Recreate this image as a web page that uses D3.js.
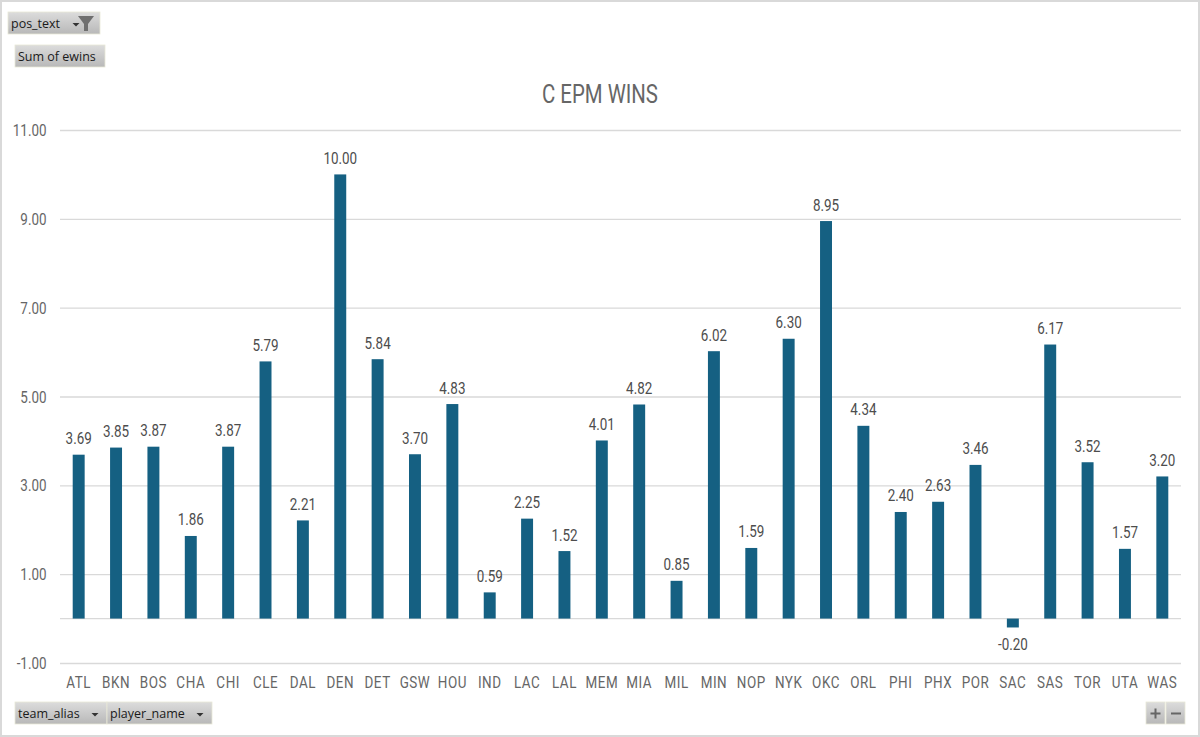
<!DOCTYPE html>
<html>
<head>
<meta charset="utf-8">
<script src="https://cdn.jsdelivr.net/npm/d3@7"></script>
<style>
    html, body { margin: 0; padding: 0; background: #fff; }
    svg { display: block; }
    .cond { font-family: Roboto, sans-serif; }
    .btn-label { font-family: "Open Sans", "Noto Sans", sans-serif; font-size: 12.5px; fill: #1a1a1a; }
</style>
</head>
<body>
<div id="chart"></div>
<script>
const teams = ['ATL', 'BKN', 'BOS', 'CHA', 'CHI', 'CLE', 'DAL', 'DEN', 'DET', 'GSW', 'HOU', 'IND', 'LAC', 'LAL', 'MEM',
    'MIA', 'MIL', 'MIN', 'NOP', 'NYK', 'OKC', 'ORL', 'PHI', 'PHX', 'POR', 'SAC', 'SAS', 'TOR', 'UTA', 'WAS'];
const ewins = [3.69, 3.85, 3.87, 1.86, 3.87, 5.79, 2.21, 10.00, 5.84, 3.70, 4.83, 0.59, 2.25, 1.52, 4.01,
    4.82, 0.85, 6.02, 1.59, 6.30, 8.95, 4.34, 2.40, 2.63, 3.46, -0.20, 6.17, 3.52, 1.57, 3.20];
const yTicks = [-1, 1, 3, 5, 7, 9, 11];

const width = 1200;
const height = 737;
const plot = { left: 60, right: 1181, top: 130, bottom: 663 };
const narrow = 0.79; // Roboto squeezed to look like the condensed face
const fmt = d => d3.format('.2f')(d).replace('\u2212', '-');

const svg = d3.select('#chart').append('svg')
    .attr('width', width)
    .attr('height', height);

const defs = svg.append('defs');
const grad = defs.append('linearGradient')
    .attr('id', 'btn')
    .attr('x1', 0).attr('x2', 0).attr('y1', 0).attr('y2', 1);
grad.append('stop').attr('offset', '0%').attr('stop-color', '#dcdcdc');
grad.append('stop').attr('offset', '100%').attr('stop-color', '#b8b8b8');

// Chart frame
svg.append('rect')
    .attr('x', 1).attr('y', 1)
    .attr('width', width - 2).attr('height', height - 2)
    .attr('fill', '#fff')
    .attr('stroke', '#d9d9d9')
    .attr('stroke-width', 2);

const x = d3.scaleBand()
    .domain(teams)
    .range([plot.left, plot.right])
    .paddingInner(0.68)
    .paddingOuter(0.34);

const y = d3.scaleLinear()
    .domain([-1, 11])
    .range([plot.bottom, plot.top]);

// Gridlines and y labels
const yAxis = svg.append('g')
    .attr('transform', `translate(${plot.left},0)`)
    .call(d3.axisLeft(y)
        .tickValues(yTicks)
        .tickSize(-(plot.right - plot.left))
        .tickFormat(fmt));
yAxis.select('.domain').remove();
yAxis.selectAll('line').attr('stroke', '#d9d9d9').attr('stroke-width', 1.4);
yAxis.selectAll('text').remove();
yAxis.selectAll('.tick').append('text')
    .attr('class', 'cond')
    .attr('transform', 'translate(-13.5,-0.5) scale(' + narrow + ',1)')
    .attr('dy', '0.36em')
    .attr('text-anchor', 'end')
    .attr('fill', '#666')
    .attr('font-size', 17)
    .text(fmt);

// Zero baseline
svg.append('line')
    .attr('x1', plot.left).attr('x2', plot.right)
    .attr('y1', y(0)).attr('y2', y(0))
    .attr('stroke', '#d9d9d9')
    .attr('stroke-width', 1.4);

// Bars
svg.selectAll('.bar')
    .data(ewins)
    .enter()
    .append('rect')
    .attr('class', 'bar')
    .attr('x', (d, i) => x(teams[i]))
    .attr('width', x.bandwidth())
    .attr('y', d => y(Math.max(d, 0)))
    .attr('height', d => Math.abs(y(d) - y(0)))
    .attr('fill', '#156082');

// Value labels
svg.selectAll('.value')
    .data(ewins)
    .enter()
    .append('text')
    .attr('class', 'value cond')
    .attr('transform', (d, i) => {
        const px = x(teams[i]) + x.bandwidth() / 2;
        const py = d < 0 ? y(d) + 23 : y(d) - 10.5;
        return `translate(${px},${py}) scale(${narrow},1)`;
    })
    .attr('text-anchor', 'middle')
    .attr('fill', '#4d4d4d')
    .attr('font-size', 17)
    .text(fmt);

// Category labels
svg.selectAll('.team')
    .data(teams)
    .enter()
    .append('text')
    .attr('class', 'team cond')
    .attr('transform', d => `translate(${x(d) + x.bandwidth() / 2},688) scale(${narrow},1)`)
    .attr('text-anchor', 'middle')
    .attr('fill', '#666')
    .attr('font-size', 17)
    .attr('letter-spacing', 0.7)
    .text(d => d);

// Title
svg.append('text')
    .attr('class', 'cond')
    .attr('transform', `translate(600,103) scale(0.8,1)`)
    .attr('text-anchor', 'middle')
    .attr('fill', '#666')
    .attr('font-size', 25.5)
    .text('C EPM WINS');

// Pivot field buttons
function fieldButton(bx, by, w, h, label, arrow) {
    svg.append('rect')
        .attr('x', bx).attr('y', by)
        .attr('width', w).attr('height', h)
        .attr('fill', 'url(#btn)')
        .attr('stroke', '#e8e8d8')
        .attr('stroke-width', 0.8);
    svg.append('text')
        .attr('class', 'btn-label')
        .attr('x', bx + 3).attr('y', by + 16)
        .text(label);
    if (arrow) {
        svg.append('path')
            .attr('d', `M${arrow - 3.5},${by + 11}h7l-3.5,3.5z`)
            .attr('fill', '#333');
    }
}

fieldButton(8, 12, 92, 22, 'pos_text', 76);
svg.append('path')
    .attr('d', 'M78,16h16l-6,8v7h-4v-7z')
    .attr('fill', '#6f6f6f');
fieldButton(15, 45, 90, 22, 'Sum of ewins', null);
fieldButton(15, 702, 92, 22, 'team_alias', 95);
fieldButton(107, 702, 105, 22, 'player_name', 200);

// Zoom buttons
fieldButton(1146, 702, 19, 22, '', null);
fieldButton(1166, 702, 19, 22, '', null);
svg.append('path')
    .attr('d', 'M1150.5,713.5h10M1155.5,708.5v10M1171,713.5h10')
    .attr('stroke', '#666')
    .attr('stroke-width', 2)
    .attr('fill', 'none');
</script>
</body>
</html>
